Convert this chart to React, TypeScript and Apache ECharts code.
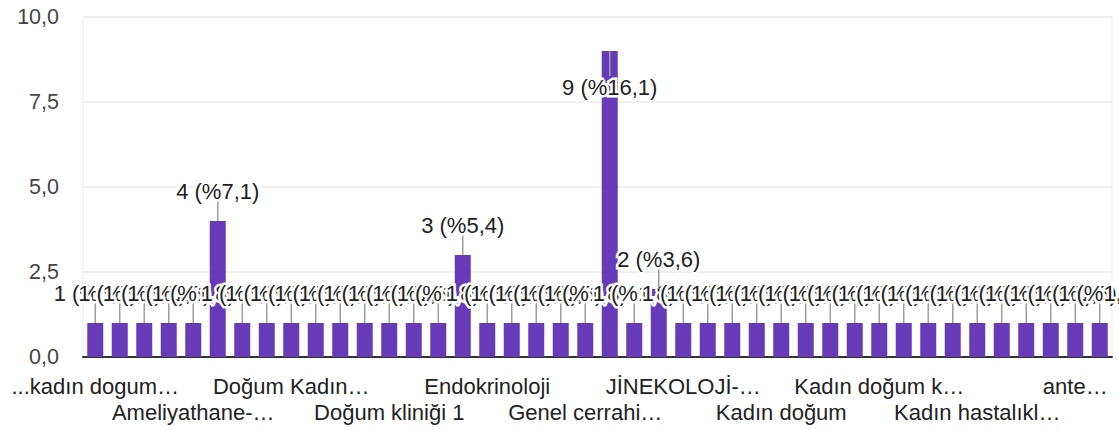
import React, { useEffect, useRef } from "react";
import * as echarts from "echarts";

const categories: string[] = [
  "...kadın dogum…", "Acil servis", "Acil ünitesi", "Ameliyathane", "Ameliyathane-…",
  "Ameliyathane ve doğumhane", "Anestezi", "Beyin cerrahi", "Doğum Kadın…", "Doğum kliniği",
  "Doğum servisi", "Doğumhane", "Doğum kliniği 1", "Doğum salonu", "Dahiliye",
  "Doğumhane ve jinekoloji", "Endokrinoloji", "Enfeksiyon", "Gebe polikliniği", "Genel cerrahi",
  "Genel cerrahi…", "Jinekoloji", "Jinekoloji servisi", "JİNEKOLOJİ", "JİNEKOLOJİ-…",
  "Kadın doğum servisi", "Kadın doğum kliniği", "Kadın doğum polikliniği", "Kadın doğum", "Kadın doğum ünitesi",
  "Kadın doğum ve çocuk", "Kadın doğum acil", "Kadın doğum k…", "Kadın doğum servisi 2", "Kadın hastalıkları",
  "Kadın hastalıkları kliniği", "Kadın hastalıkl…", "Kardiyoloji", "Nöroloji", "Yenidoğan",
  "ante…", "yoğun bakım",
];

const values: number[] = [
  1, 1, 1, 1, 1, 4, 1, 1, 1, 1,
  1, 1, 1, 1, 1, 3, 1, 1, 1, 1,
  1, 9, 1, 2, 1, 1, 1, 1, 1, 1,
  1, 1, 1, 1, 1, 1, 1, 1, 1, 1,
  1, 1,
];

const yTicks: number[] = [0, 2.5, 5, 7.5, 10];

const FONT = '"Liberation Sans", Arial, sans-serif';

export default function App() {
  const ref = useRef<HTMLDivElement>(null);
  useEffect(() => {
    if (!ref.current) return;
    const chart = echarts.init(ref.current, null, { renderer: "svg" });
    const total = values.reduce((a, b) => a + b, 0);
    const pct = (v: number) => ((v / total) * 100).toFixed(1).replace(".", ",");
    const catLabel = {
      color: "#222222",
      fontFamily: FONT,
      fontSize: 22,
      hideOverlap: false,
    };
    chart.setOption({
      animation: false,
      grid: {
        left: 83,
        right: 7,
        top: 17,
        bottom: 73,
        show: true,
        borderColor: "#ebebeb",
        borderWidth: 1,
      },
      xAxis: [
        {
          type: "category",
          data: categories,
          axisLine: { show: true, lineStyle: { color: "#333333", width: 2 } },
          axisTick: { show: false },
          axisLabel: {
            ...catLabel,
            interval: (i: number) => i % 8 === 0,
            margin: 18,
          },
          splitLine: { show: false },
        },
        {
          type: "category",
          data: categories,
          position: "bottom",
          axisLine: { show: false },
          axisTick: { show: false },
          axisLabel: {
            ...catLabel,
            interval: (i: number) => i % 8 === 4,
            margin: 44,
          },
          splitLine: { show: false },
        },
      ],
      yAxis: {
        type: "value",
        min: yTicks[0],
        max: yTicks[yTicks.length - 1],
        interval: 2.5,
        axisLine: { show: false },
        axisTick: { show: false },
        axisLabel: {
          margin: 24,
          color: "#444444",
          fontFamily: FONT,
          fontSize: 21.5,
          formatter: (v: number) => v.toFixed(1).replace(".", ","),
        },
        splitLine: { show: true, lineStyle: { color: "#ebebeb", width: 1.5 } },
      },
      series: [
        {
          type: "bar",
          data: values,
          barWidth: 16,
          itemStyle: { color: "#673ab7" },
          silent: true,
        },
        {
          type: "custom",
          data: values.map((v, i) => [i, v]),
          clip: false,
          silent: true,
          renderItem: (params: any, api: any) => {
            const i = api.value(0);
            const v = api.value(1);
            const top = api.coord([i, v]);
            const plotTop = params.coordSys.y;
            let labelY: number;
            let y2: number;
            if (top[1] - 42 < plotTop) {
              labelY = top[1] + 36;
              y2 = top[1] + 25;
            } else {
              labelY = top[1] - 30;
              y2 = top[1] - 22;
            }
            const text = `${v} (%${pct(v)})`;
            const base = {
              text,
              x: top[0],
              y: labelY,
              align: "center",
              verticalAlign: "middle",
              textAlign: "center",
              textVerticalAlign: "middle",
              fontSize: 22,
              fontFamily: FONT,
            };
            return {
              type: "group",
              children: [
                {
                  type: "line",
                  z2: i * 3,
                  shape: { x1: top[0], y1: top[1], x2: top[0], y2 },
                  style: { stroke: "#9e9e9e", lineWidth: 1.5 },
                },
                {
                  type: "text",
                  z2: i * 3 + 1,
                  style: { ...base, fill: "#ffffff", stroke: "#ffffff", lineWidth: 5 },
                },
                {
                  type: "text",
                  z2: i * 3 + 2,
                  style: { ...base, fill: "#222222" },
                },
              ],
            };
          },
        },
      ],
    });
    return () => chart.dispose();
  }, []);
  return (
    <div
      ref={ref}
      style={{ position: "fixed", left: 0, top: 0, width: 1119, height: 430, background: "#fff" }}
    />
  );
}
